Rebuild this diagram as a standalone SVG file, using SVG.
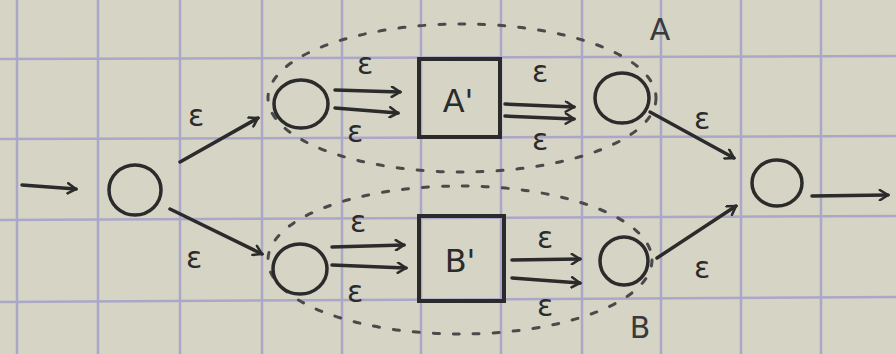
<svg xmlns="http://www.w3.org/2000/svg" width="896" height="354" viewBox="0 0 896 354">
<style>
.bg{fill:#d6d4c5}
.grid{stroke:#aba7c8;stroke-width:2.5}
.st{fill:none;stroke:#2b2b2b;stroke-width:3.5}
.box{fill:none;stroke:#2b2b2b;stroke-width:4}
.ln{fill:none;stroke:#2b2b2b;stroke-width:3.5;stroke-linecap:round;marker-end:url(#ah)}
.grp{fill:none;stroke:#4a4a4a;stroke-width:3;stroke-dasharray:6 14;stroke-linecap:round}
.lbl{font-family:"DejaVu Sans",sans-serif;font-size:30px;fill:#2b2b2b;text-anchor:middle}
.big{font-family:"DejaVu Sans",sans-serif;font-size:32px;fill:#2b2b2b;text-anchor:middle}
.gl{font-family:"DejaVu Sans",sans-serif;font-size:30px;fill:#3a3a3a;text-anchor:middle}
</style>
<defs>
<marker id="ah" viewBox="0 0 12 12" refX="10" refY="6" markerWidth="3.5" markerHeight="3.5" orient="auto" markerUnits="strokeWidth">
<polyline points="2,1 10,6 2,11" fill="none" stroke="#2b2b2b" stroke-width="2.5" stroke-linecap="round"/>
</marker>
</defs>
<rect class="bg" width="896" height="354"/>
<g id="grid">
<line class="grid" x1="17" y1="0" x2="17" y2="354"/>
<line class="grid" x1="98" y1="0" x2="98" y2="354"/>
<line class="grid" x1="180" y1="0" x2="180" y2="354"/>
<line class="grid" x1="262" y1="0" x2="262" y2="354"/>
<line class="grid" x1="342" y1="0" x2="342" y2="354"/>
<line class="grid" x1="421" y1="0" x2="421" y2="354"/>
<line class="grid" x1="501" y1="0" x2="501" y2="354"/>
<line class="grid" x1="582" y1="0" x2="582" y2="354"/>
<line class="grid" x1="661" y1="0" x2="661" y2="354"/>
<line class="grid" x1="741" y1="0" x2="741" y2="354"/>
<line class="grid" x1="821" y1="0" x2="821" y2="354"/>
<line class="grid" x1="0" y1="59" x2="896" y2="56"/>
<line class="grid" x1="0" y1="139" x2="896" y2="136"/>
<line class="grid" x1="0" y1="220" x2="896" y2="216"/>
<line class="grid" x1="0" y1="302" x2="896" y2="297"/>
</g>
<g id="groups">
<ellipse class="grp" cx="462" cy="98" rx="194" ry="74"/>
<text class="gl" x="660" y="40">A</text>
<ellipse class="grp" cx="460" cy="260" rx="192" ry="74"/>
<text class="gl" x="640" y="338">B</text>
</g>
<g id="connectors">
<line class="ln" x1="22" y1="185" x2="76" y2="189"/>
<line class="ln" x1="180" y1="162" x2="258" y2="118"/>
<text class="lbl" x="196" y="126">ε</text>
<line class="ln" x1="170" y1="209" x2="262" y2="254"/>
<text class="lbl" x="194" y="268">ε</text>
<line class="ln" x1="335" y1="90" x2="400" y2="92"/>
<line class="ln" x1="335" y1="108" x2="398" y2="113"/>
<text class="lbl" x="365" y="74">ε</text>
<text class="lbl" x="355" y="142">ε</text>
<line class="ln" x1="505" y1="104" x2="574" y2="107"/>
<line class="ln" x1="505" y1="116" x2="574" y2="119"/>
<text class="lbl" x="540" y="82">ε</text>
<text class="lbl" x="540" y="150">ε</text>
<line class="ln" x1="650" y1="112" x2="734" y2="158"/>
<text class="lbl" x="702" y="129">ε</text>
<line class="ln" x1="332" y1="247" x2="404" y2="245"/>
<line class="ln" x1="332" y1="265" x2="406" y2="268"/>
<text class="lbl" x="358" y="232">ε</text>
<text class="lbl" x="355" y="302">ε</text>
<line class="ln" x1="512" y1="260" x2="580" y2="259"/>
<line class="ln" x1="512" y1="278" x2="580" y2="283"/>
<text class="lbl" x="545" y="248">ε</text>
<text class="lbl" x="545" y="316">ε</text>
<line class="ln" x1="657" y1="258" x2="736" y2="206"/>
<text class="lbl" x="702" y="278">ε</text>
<line class="ln" x1="812" y1="196" x2="888" y2="195"/>
</g>
<g id="q0"><ellipse class="st" cx="135" cy="190" rx="26" ry="25"/></g>
<g id="qa1"><ellipse class="st" cx="301" cy="104" rx="27" ry="24"/></g>
<g id="Aprime"><rect class="box" x="419" y="59" width="81" height="78"/><text class="big" x="458" y="112">A'</text></g>
<g id="qa2"><ellipse class="st" cx="622" cy="98" rx="27" ry="25"/></g>
<g id="qb1"><ellipse class="st" cx="300" cy="269" rx="27" ry="25"/></g>
<g id="Bprime"><rect class="box" x="419" y="216" width="85" height="85"/><text class="big" x="460" y="272">B'</text></g>
<g id="qb2"><ellipse class="st" cx="624" cy="261" rx="24" ry="24"/></g>
<g id="qf"><ellipse class="st" cx="777" cy="183" rx="25" ry="23"/></g>
</svg>
